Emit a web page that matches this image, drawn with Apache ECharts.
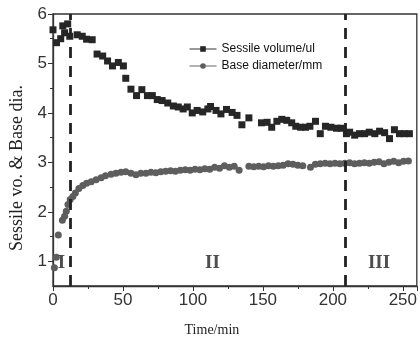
<!DOCTYPE html>
<html>
<head>
<meta charset="utf-8">
<script src="https://cdn.jsdelivr.net/npm/echarts@6/dist/echarts.min.js"></script>
<style>html,body{margin:0;padding:0;background:#fff}#c{width:420px;height:342px}</style>
</head>
<body>
<div id="c"></div>
<script>
// Sessile volume (uL) vs time (min)
var volTime = [0,2.5,5.5,7,8.3,10.5,12,17.3,20.9,24,28,31.5,35.5,39,42.5,46.7,50.3,52,55.7,59.7,63.5,67.5,71,74.5,78,82,86,89.5,93,96,99.5,103,107,110.7,112.6,116.5,120,124,128,131.5,135,140,149,153,156.3,160,163.5,167,170.6,173.5,177,180.5,183.6,187.6,191,194.7,198.6,202.6,206,209.7,212,215.6,219,222.7,226,230,233.4,237,240.5,244,247.6,251,254.7];
var volValue = [5.68,5.42,5.5,5.76,5.62,5.8,5.55,5.58,5.55,5.49,5.48,5.19,5.15,5.05,4.95,5.02,4.95,4.7,4.48,4.35,4.47,4.35,4.35,4.27,4.25,4.2,4.14,4.12,4.08,4.12,4.0,4.05,4.02,4.08,4.13,4.05,3.98,4.07,4.01,3.95,3.76,3.9,3.8,3.81,3.71,3.83,3.87,3.85,3.8,3.73,3.71,3.71,3.73,3.83,3.58,3.73,3.71,3.69,3.69,3.58,3.61,3.55,3.58,3.58,3.61,3.58,3.63,3.6,3.48,3.66,3.58,3.58,3.58];
// Base diameter (mm) vs time (min)
var diaTime = [1,2.4,3.8,6.7,8.3,9.5,10.7,12.3,14.2,16,18.5,21.3,24,27.3,30.8,34.4,37.5,41.5,45,48.6,52,55.7,59.3,62.8,66.4,70,73.5,77,80.5,84,87.5,91,94.5,98,101.5,105,108.5,112,115.5,119,122.5,126,129.5,133,140,143.5,147,150.5,154,157.5,161,164.5,168,171.5,175,178.5,184,187.5,191,194.5,198,201.5,205,208.5,212,215.5,219,222.5,226,229.5,233,236.5,240,243.5,247,250.5,254];
var diaValue = [0.87,1.08,1.53,1.83,1.91,2.01,2.15,2.25,2.31,2.38,2.47,2.53,2.58,2.61,2.65,2.69,2.73,2.76,2.78,2.8,2.81,2.78,2.75,2.78,2.78,2.8,2.79,2.81,2.82,2.83,2.82,2.84,2.85,2.84,2.86,2.85,2.87,2.86,2.9,2.88,2.93,2.9,2.92,2.84,2.92,2.91,2.92,2.91,2.93,2.92,2.93,2.94,2.97,2.96,2.94,2.93,2.9,2.96,2.97,2.98,2.97,2.98,2.97,2.98,2.99,2.97,2.98,2.99,2.98,3.0,3.01,2.97,3.0,3.02,2.99,3.02,3.03];
// Stage boundaries (min) and stage labels
var boundaries = [12, 209];
var stageNames = ['I', 'II', 'III'];
var stageTime = [6, 114, 233];
var stageLevel = [0.97, 0.97, 0.97];
var yLabels = [1, 2, 3, 4, 5, 6];
var yMinor = [1.5, 2.5, 3.5, 4.5, 5.5];

function pairs(a, b) { return a.map(function (t, i) { return [t, b[i]]; }); }

var chart = echarts.init(document.getElementById('c'));
chart.setOption({
  animation: false,
  backgroundColor: '#fff',
  grid: { left: 53, top: 14, right: 2, bottom: 53, show: true, borderColor: '#333', borderWidth: 1.3 },
  legend: {
    left: 184, top: 38, orient: 'vertical', itemGap: 5, itemWidth: 27, itemHeight: 7,
    textStyle: { fontFamily: 'Liberation Sans', fontSize: 12, color: '#111' },
    data: [
      { name: 'Sessile volume/ul', lineStyle: { color: '#333', width: 1 } },
      { name: 'Base diameter/mm', lineStyle: { color: '#666', width: 1 } }
    ]
  },
  xAxis: {
    type: 'value', min: 0, max: 260, interval: 50,
    name: 'Time/min', nameLocation: 'middle', nameGap: 37,
    nameTextStyle: { fontFamily: 'Liberation Serif', fontSize: 14, color: '#222', padding: [0, 46, 0, 0] },
    axisLine: { lineStyle: { color: '#333', width: 1.3 } },
    axisTick: { show: true, length: 5, lineStyle: { color: '#333' } },
    minorTick: { show: true, splitNumber: 2, length: 3, lineStyle: { color: '#333' } },
    splitLine: { show: false },
    axisLabel: { fontFamily: 'Liberation Sans', fontSize: 17, color: '#333', margin: 6 }
  },
  yAxis: [{
    type: 'value', min: 0.5, max: 6,
    name: 'Sessile vo. & Base dia.', nameLocation: 'middle', nameGap: 21,
    nameTextStyle: { fontFamily: 'Liberation Serif', fontSize: 18, color: '#222', padding: [0, 36, 0, 0] },
    axisLine: { show: true, lineStyle: { color: '#333', width: 1.3 } },
    axisTick: { show: true, length: 5, customValues: yLabels, lineStyle: { color: '#333' } },
    splitLine: { show: false },
    axisLabel: { fontFamily: 'Liberation Sans', fontSize: 17, color: '#333', margin: 6, customValues: yLabels }
  }, {
    type: 'value', min: 0.5, max: 6, position: 'left',
    axisLine: { show: false },
    axisTick: { show: true, length: 3, customValues: yMinor, lineStyle: { color: '#333' } },
    axisLabel: { show: false },
    splitLine: { show: false }
  }],
  series: [{
    name: 'Sessile volume/ul', type: 'line', data: pairs(volTime, volValue),
    symbol: 'rect', symbolSize: 7, itemStyle: { color: '#262626' },
    lineStyle: { color: '#e4e4e4', width: 0.5 },
    markLine: {
      silent: true, symbol: 'none', label: { show: false },
      lineStyle: { color: '#222', type: [11, 8], width: 2.8 },
      data: boundaries.map(function (b) { return { xAxis: b }; })
    },
    z: 3
  }, {
    name: 'Base diameter/mm', type: 'line', data: pairs(diaTime, diaValue),
    symbol: 'circle', symbolSize: 7, itemStyle: { color: '#5e5e5e' },
    lineStyle: { color: '#e4e4e4', width: 0.5 },
    z: 2
  }, {
    type: 'scatter', symbolSize: 0, silent: true, z: 5,
    data: stageTime.map(function (t, i) { return { value: [t, stageLevel[i]], name: stageNames[i] }; }),
    label: { show: true, position: 'inside', formatter: '{b}', fontFamily: 'Liberation Serif', fontSize: 19, fontWeight: 'bold', color: '#222' }
  }]
});
</script>
</body>
</html>
